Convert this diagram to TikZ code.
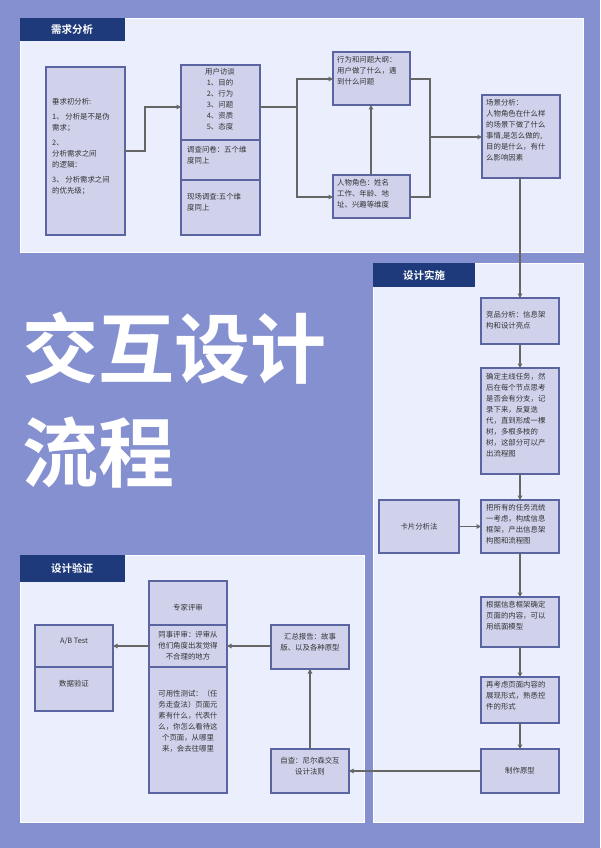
\documentclass[tikz,border=0pt]{standalone}
\usepackage{fontspec}
\setmainfont{Noto Sans CJK SC}
\newfontfamily\cjkb{Noto Sans CJK SC Bold}
\usetikzlibrary{arrows.meta}
\definecolor{bg}{HTML}{8590D0}
\definecolor{panel}{HTML}{EBEEFC}
\definecolor{boxf}{HTML}{D0D2EC}
\definecolor{boxd}{HTML}{5A64A0}
\definecolor{head}{HTML}{1E3A7A}
\definecolor{ln}{HTML}{666666}
\tikzset{
 panel/.style={fill=panel,draw=white,line width=0.6pt},
 head/.style={fill=head,text=white,font=\cjkb\fontsize{10.5}{12}\selectfont,inner sep=0pt},
 bx/.style={fill=boxf,draw=boxd,line width=1.2pt},
 txt/.style={font=\fontsize{7.4}{11}\selectfont,text=black!80,align=left,inner sep=0pt},
 arr/.style={draw=ln,line width=1.3pt,-{Triangle[length=4.5pt,width=4.5pt]}},
 lnn/.style={draw=ln,line width=1.3pt},
}
\begin{document}
\begin{tikzpicture}[x=1pt,y=-1pt]
\fill[bg] (0,0) rectangle (600,848);
\useasboundingbox (0,0) rectangle (600,848);
% panels
\draw[panel] (20,18) rectangle (583,252);
\draw[panel] (373,263) rectangle (583,822);
\draw[panel] (20,555) rectangle (364,822);
\fill[head] (20,18) rectangle (125,41); \node[head] (h1) at (72,29.5) {需求分析};
\fill[head] (373,263) rectangle (475,287); \node[head] (h2) at (424,275) {设计实施};
\fill[head] (20,555) rectangle (125,582); \node[head] (h3) at (72,568) {设计验证};
% title
\node[anchor=west,text=white,font=\cjkb\fontsize{76}{80}\selectfont,inner sep=0pt] (t1) at (22,348) {交互设计};
\node[anchor=west,text=white,font=\cjkb\fontsize{76}{80}\selectfont,inner sep=0pt] (t2) at (22,453) {流程};
% boxes panel 1
\draw[bx] (46,67) rectangle (125,235); \coordinate (A) at (125,151);
\node[txt,anchor=north west] (at) at (52,98) {垂求初分析:\\[4pt]1、 分析是不是伪\\需求；\\[4pt]2、\\分析需求之间\\的逻辑：\\[4pt]3、 分析需求之间\\的优先级；};
\draw[bx] (181,65) rectangle (260,140);
\draw[bx] (181,140) rectangle (260,180);
\draw[bx] (181,180) rectangle (260,235);
\node[txt,align=center,anchor=north] (bt) at (220,68) {用户访谈\\1、目的\\2、行为\\3、问题\\4、资质\\5、态度};
\node[txt,anchor=north west] (b2) at (187,146) {调查问卷：五个维\\度同上};
\node[txt,anchor=north west] (b3) at (187,193) {现场调查:五个维\\度同上};
\draw[bx] (333,52) rectangle (410,105);
\node[txt,anchor=north west] (ct) at (337,56) {行为和问题大纲：\\用户做了什么，遇\\到什么问题};
\draw[bx] (333,175) rectangle (410,218);
\node[txt,anchor=north west] (dt) at (337,179) {人物角色：姓名\\工作、年龄、地\\址、兴趣等维度};
\draw[bx] (482,95) rectangle (560,178);
\node[txt,anchor=north west] (et) at (486,99) {场景分析：\\人物角色在什么样\\的场景下做了什么\\事情,是怎么做的,\\目的是什么，有什\\么影响因素};
% panel 2
\draw[bx] (481,298) rectangle (559,344);
\node[txt,anchor=north west] (ft) at (486,311) {竞品分析：信息架\\构和设计亮点};
\draw[bx] (481,368) rectangle (559,474);
\node[txt,anchor=north west] (gt) at (486,373) {确定主线任务，然\\后在每个节点思考\\是否会有分支，记\\录下来，反复迭\\代，直到形成一棵\\树，多根多枝的\\树，这部分可以产\\出流程图};
\draw[bx] (481,500) rectangle (559,553);
\node[txt,anchor=north west] (ht) at (486,504) {把所有的任务流统\\一考虑，构成信息\\框架，产出信息架\\构图和流程图};
\draw[bx] (379,500) rectangle (459,553);
\node[txt] (card) at (419,526.5) {卡片分析法};
\draw[bx] (481,597) rectangle (559,647);
\node[txt,anchor=north west] (it) at (486,601) {根据信息框架确定\\页面的内容，可以\\用纸面模型};
\draw[bx] (481,677) rectangle (559,723);
\node[txt,anchor=north west] (jt) at (486,681) {再考虑页面内容的\\展现形式，熟悉控\\件的形式};
\draw[bx] (481,749) rectangle (559,793);
\node[txt] (kt) at (520,771) {制作原型};
% panel 3
\draw[bx] (149,581) rectangle (227,625);
\draw[bx] (149,625) rectangle (227,667);
\draw[bx] (149,667) rectangle (227,793);
\node[txt] (l1) at (188,608) {专家评审};
\node[txt,align=center] (l2) at (188,646) {同事评审：评审从\\他们角度出发觉得\\不合理的地方};
\node[txt,align=center,anchor=north] (l3) at (188,690) {可用性测试：（任\\务走查法）页面元\\素有什么，代表什\\么，你怎么看待这\\个页面，从哪里\\来，会去往哪里};
\draw[bx] (35,625) rectangle (113,667);
\draw[bx] (35,667) rectangle (113,711);
\node[txt] (ab) at (74,641) {A/B Test};
\node[txt] (dv) at (74,684) {数据验证};
\draw[bx] (271,625) rectangle (349,669);
\node[txt,align=center] (sum) at (310,642) {汇总报告：故事\\版、以及各种原型};
\draw[bx] (271,749) rectangle (349,793);
\node[txt,align=center] (self) at (310,766) {自查：尼尔森交互\\设计法则};
% connectors
\coordinate (Bl) at (181,107); \coordinate (Br) at (260,107);
\coordinate (J1) at (297,107);
\coordinate (Cl) at (333,79); \coordinate (Dl) at (333,197);
\coordinate (Cr) at (410,79); \coordinate (Dr) at (410,197);
\coordinate (J2) at (430,137); \coordinate (El) at (482,137);
\draw[arr] (A) -- (145,151) |- (Bl);
\draw[lnn,line width=2pt] (Br) -- (J1);
\draw[arr] (J1) |- (Cl);
\draw[arr] (J1) |- (Dl);
\draw[arr] (371,175) -- (371,105);
\draw[lnn] (Cr) -| (J2);
\draw[lnn] (Dr) -| (J2);
\draw[arr,line width=2pt] (J2) -- (El);
\draw[arr] (520,178) -- (520,298);
\draw[arr] (520,344) -- (520,368);
\draw[arr] (520,474) -- (520,500);
\draw[arr] (459,526.5) -- (481,526.5);
\draw[arr] (520,553) -- (520,597);
\draw[arr] (520,647) -- (520,677);
\draw[arr] (520,723) -- (520,749);
\draw[arr] (481,771) -- (349,771);
\draw[arr] (310,749) -- (310,669);
\draw[arr] (271,646) -- (227,646);
\draw[arr] (149,646) -- (113,646);
\end{tikzpicture}
\end{document}
